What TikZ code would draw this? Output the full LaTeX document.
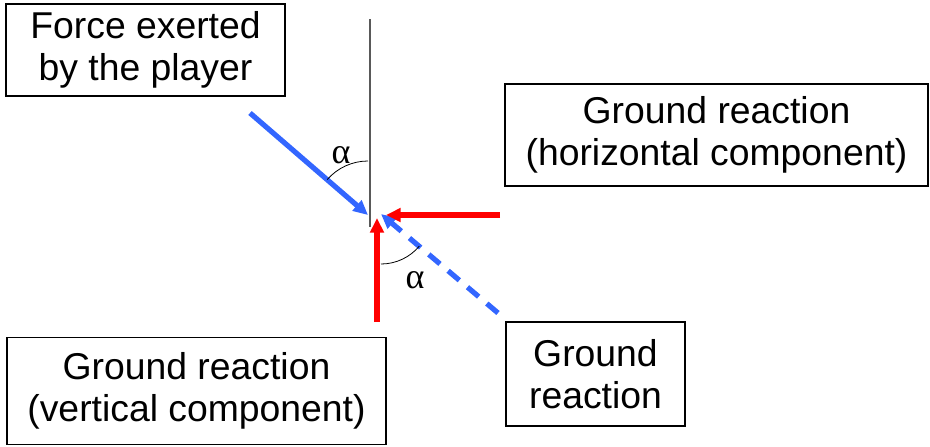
\documentclass[tikz,border=0pt]{standalone}
\usepackage{fontspec}
\setmainfont{Liberation Sans}
\newfontfamily\greekfont{Liberation Serif}
\usetikzlibrary{arrows.meta}
\definecolor{forceblue}{RGB}{51,102,255}
\definecolor{reactred}{RGB}{255,0,0}

\begin{document}
\begin{tikzpicture}[x=0.75pt,y=-0.75pt,
  labelbox/.style={draw, line width=1.1pt, align=center, inner sep=0pt,
    font=\fontsize{28}{31.5}\selectfont},
  force/.style={line width=3.9pt, -{Triangle[length=11pt,width=10pt]}},
  anglemark/.style={line width=0.6pt},
  anglelabel/.style={font=\greekfont\fontsize{27}{28}\selectfont, inner sep=0pt}]
  \useasboundingbox (0,0) rectangle (930,446);

  % points of the force diagram
  \coordinate (top) at (370,19);
  \coordinate (bot) at (370,227);
  \coordinate (P0) at (250,113);
  \coordinate (P) at (368,215);
  \coordinate (H0) at (500,215);
  \coordinate (H) at (386,215);
  \coordinate (V0) at (377,322);
  \coordinate (V) at (377,218);
  \coordinate (G0) at (498,313);
  \coordinate (G) at (381,214);

  \draw[gray!70!black, line width=1.1pt] (top) -- (bot);
  \draw[force, forceblue] (P0) -- (P);
  \draw[force, forceblue, dash pattern=on 11pt off 8pt] (G0) -- (G);
  \draw[force, reactred] (H0) -- (H);
  \draw[force, reactred] (V0) -- (V);

  % angles
  \draw[anglemark] (P) ++(0,-54) arc[start angle=-90, end angle=-139, radius=54];
  \draw[anglemark] (G) ++(0,50) arc[start angle=90, end angle=40, radius=50];
  \node[anglelabel] (alphaTop) at (341,155) {α};
  \node[anglelabel] (alphaBot) at (415,280) {α};

  % labels
  \node[labelbox, minimum width=209pt, minimum height=69pt] (player) at (145.5,50)
    {Force exerted\\by the player};
  \node[labelbox, minimum width=317pt, minimum height=76.5pt] (horiz) at (716.5,135)
    {Ground reaction\\(horizontal component)};
  \node[labelbox, minimum width=284pt, minimum height=80pt] (vert) at (196.5,391)
    {Ground reaction\\(vertical component)};
  \node[labelbox, minimum width=134pt, minimum height=78pt] (ground) at (595.5,374)
    {Ground\\reaction};
\end{tikzpicture}
\end{document}
